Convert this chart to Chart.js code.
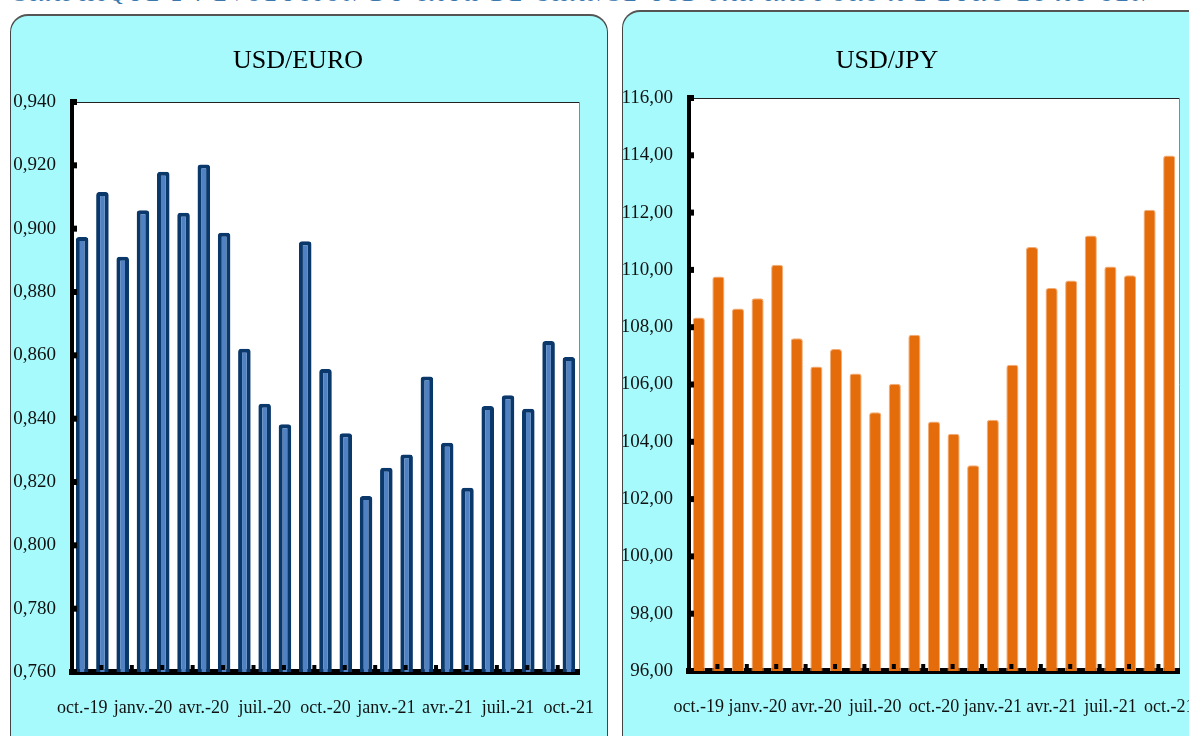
<!DOCTYPE html>
<html>
<head>
<meta charset="utf-8">
<script src="https://cdn.jsdelivr.net/npm/chart.js@4.4.1/dist/chart.umd.min.js"></script>
<style>
  html, body { margin: 0; padding: 0; background: #fff; }
  body { width: 1189px; height: 736px; overflow: hidden; position: relative; }
  #header {
    position: absolute; left: 12px; top: -18px; white-space: nowrap;
    font: italic 21px "Liberation Serif", serif; color: #3a78ae; letter-spacing: 3.6px;
  }
  .panel {
    position: absolute; background: #a6fafc; border: 1px solid #444;
    border-top: 2px solid #555; border-radius: 18px; overflow: hidden;
  }
  #p1 { left: 10px; top: 14px; width: 596px; height: 740px; }
  #p2 { left: 622px; top: 10px; width: 600px; height: 740px; }
  canvas { position: absolute; left: 0; top: 0; }
</style>
</head>
<body>
<div id="header">GRAPHIQUE 2 : EVOLUTION DU TAUX DE CHANGE USD PAR RAPPORT A L'EURO ET AU YEN</div>
<div class="panel" id="p1"><canvas id="euroChart" width="596" height="720"></canvas></div>
<div class="panel" id="p2"><canvas id="jpyChart" width="590" height="724"></canvas></div>

<script>
const months = ['oct.-19', 'nov.-19', 'déc.-19', 'janv.-20', 'févr.-20', 'mars-20', 'avr.-20', 'mai-20',
  'juin-20', 'juil.-20', 'août-20', 'sept.-20', 'oct.-20', 'nov.-20', 'déc.-20', 'janv.-21', 'févr.-21',
  'mars-21', 'avr.-21', 'mai-21', 'juin-21', 'juil.-21', 'août-21', 'sept.-21', 'oct.-21'];

const usdEuro = [0.8974, 0.9116, 0.8911, 0.9058, 0.9180, 0.9050, 0.9203, 0.8987, 0.8621, 0.8447,
  0.8382, 0.8960, 0.8557, 0.8354, 0.8156, 0.8245, 0.8287, 0.8533, 0.8324, 0.8182,
  0.8440, 0.8474, 0.8431, 0.8645, 0.8595];

const usdJpy = [108.34, 109.77, 108.65, 109.01, 110.18, 107.61, 106.63, 107.24, 106.38, 105.03,
  106.03, 107.74, 104.71, 104.28, 103.18, 104.77, 106.69, 110.80, 109.37, 109.63,
  111.20, 110.12, 109.81, 112.10, 113.99];

const euroTicks = ['0,760', '0,780', '0,800', '0,820', '0,840', '0,860', '0,880', '0,900', '0,920', '0,940'];
const jpyTicks = ['96,00', '98,00', '100,00', '102,00', '104,00', '106,00', '108,00', '110,00',
  '112,00', '114,00', '116,00'];

const serif = '"Liberation Serif", "Times New Roman", serif';

// fond blanc de la zone de tracé + bordures fines haut/droite
const plotFrame = {
  id: 'plotFrame',
  beforeDraw(chart) {
    const { ctx, chartArea: a } = chart;
    ctx.save();
    ctx.fillStyle = '#fff';
    ctx.fillRect(a.left, a.top, a.right - a.left, a.bottom - a.top);
    ctx.strokeStyle = '#222';
    ctx.lineWidth = 1;
    ctx.beginPath();
    ctx.moveTo(a.left, a.top + 0.5);
    ctx.lineTo(a.right, a.top + 0.5);
    ctx.stroke();
    ctx.strokeStyle = '#888';
    ctx.beginPath();
    ctx.moveTo(a.right + 0.5, a.top);
    ctx.lineTo(a.right + 0.5, a.bottom);
    ctx.stroke();
    ctx.restore();
  },
  afterDraw(chart) {
    const { ctx, chartArea: a, scales } = chart;
    ctx.save();
    ctx.fillStyle = '#000';
    scales.y.ticks.forEach((t) => {
      const y = scales.y.getPixelForValue(t.value);
      ctx.fillRect(a.left - 2, y - 3, 7, 6);
    });
    for (let v = 0.95; v < months.length - 1; v += 1.5) {
      const x = scales.x.getPixelForValue(v);
      ctx.fillRect(x - 2, a.bottom - 7, 4, 5);
    }
    // titre
    const t = chart.options.plugins.panelTitle;
    ctx.font = '26px ' + serif;
    ctx.fillStyle = '#000';
    ctx.textAlign = 'center';
    ctx.textBaseline = 'middle';
    ctx.fillText(t.text, t.x, t.y);
    ctx.restore();
  }
};

function makeChart(id, opts) {
  return new Chart(document.getElementById(id), {
    type: 'bar',
    data: {
      labels: months,
      datasets: [{
        data: opts.values,
        backgroundColor: opts.fill,
        borderColor: opts.border,
        borderWidth: opts.borderWidth,
        borderSkipped: 'bottom',
        borderRadius: 3,
        barPercentage: 0.62,
        categoryPercentage: 1
      }]
    },
    options: {
      responsive: false,
      animation: false,
      layout: { padding: { top: opts.top, right: opts.right, left: 0, bottom: 0 } },
      plugins: {
        legend: { display: false },
        tooltip: { enabled: false },
        panelTitle: { text: opts.title, x: opts.titleX, y: opts.titleY }
      },
      scales: {
        x: {
          grid: { display: false, drawTicks: false },
          border: { display: true, color: '#000', width: 6 },
          afterFit(s) {
            s.height = opts.bottomSpace;
            s.paddingLeft = 0;
            s.paddingRight = 0;
          },
          ticks: {
            autoSkip: false, maxRotation: 0, padding: 25, color: '#111',
            font: { family: serif, size: 18 },
            callback: (v, i) => (i % 3 === 0 ? months[i] : '')
          }
        },
        y: {
          min: opts.min, max: opts.max,
          grid: { display: false, drawTicks: false },
          border: { display: true, color: '#000', width: 4 },
          afterFit(s) { s.width = opts.axisWidth; },
          ticks: {
            stepSize: opts.step, padding: 16, color: '#111',
            font: { family: serif, size: 19 },
            callback: (v, i) => opts.tickLabels[i]
          }
        }
      }
    },
    plugins: [plotFrame]
  });
}

makeChart('euroChart', {
  values: usdEuro, fill: '#5081c2', border: '#0b386a', borderWidth: 4,
  min: 0.76, max: 0.94, step: 0.02, tickLabels: euroTicks,
  top: 86, right: 28, axisWidth: 61, bottomSpace: 64,
  title: 'USD/EURO', titleX: 287, titleY: 45
});

makeChart('jpyChart', {
  values: usdJpy, fill: '#e46c0a', border: '#f3ad78', borderWidth: 1,
  min: 96, max: 116, step: 2, tickLabels: jpyTicks,
  top: 86, right: 34, axisWidth: 66, bottomSpace: 65,
  title: 'USD/JPY', titleX: 264, titleY: 49
});
</script>
</body>
</html>
